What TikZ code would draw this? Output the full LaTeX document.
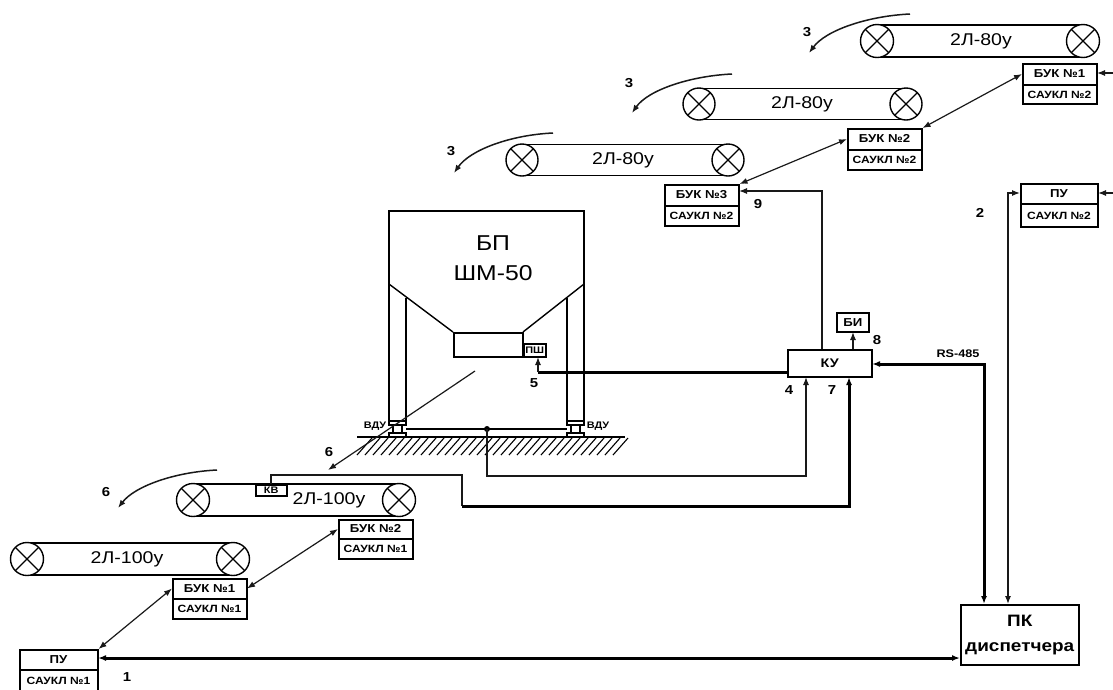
\documentclass[tikz,border=0pt]{standalone}
\usepackage{fontspec}
\setmainfont[FakeStretch=1.15]{Liberation Sans}
\usetikzlibrary{arrows.meta}
\tikzset{
  ln/.style={line width=1.2pt,black!90},
  thk/.style={line width=3pt,black},
  arr/.style={-{Latex[length=8pt,width=6pt]}},
  darr/.style={{Latex[length=8pt,width=6pt]}-{Latex[length=8pt,width=6pt]}},
  lbl/.style={font=\bfseries\fontsize{13}{15}\selectfont,inner sep=0pt},
  celltop/.style={font=\bfseries\fontsize{11.5}{13}\selectfont,inner sep=0pt},
  cellsub/.style={font=\bfseries\fontsize{10.5}{12}\selectfont,inner sep=0pt},
  contitle/.style={font=\fontsize{17}{19}\selectfont,inner sep=0pt},
  tiny/.style={font=\bfseries\fontsize{9.5}{11}\selectfont,inner sep=0pt},
  blockbox/.style={draw,line width=1.5pt,fill=white,inner sep=0pt,anchor=north west}
}
% #1 name #2 x1 #3 y1 #4 x2 #5 y2 #6 ydiv #7 top #8 bottom
\newcommand{\cellbox}[8]{%
  \node[blockbox,minimum width=#4pt-#2pt-1pt,minimum height=#5pt-#3pt-1pt] (#1) at (#2,#3) {};
  \draw[line width=1.5pt] (#2,#6) -- (#4,#6);
  \node[celltop] (#1t) at ({(#2+#4)/2},{(#3+#6)/2}) {#7};
  \node[cellsub] (#1s) at ({(#2+#4)/2},{(#6+#5)/2}) {#8};
  \coordinate (#1w) at (#2,{(#3+#6)/2});
  \coordinate (#1e) at (#4,{(#3+#6)/2});
}
% #1 name #2 xleft #3 xright #4 yc #5 r #6 text #7 text x
\newcommand{\convey}[7]{%
  \draw[line width=1.4pt] (#2,#4-#5+0.5) -- (#3,#4-#5+0.5) (#2,#4+#5-0.5) -- (#3,#4+#5-0.5);
  \foreach \cx in {#2,#3}{
    \draw[line width=1.4pt,fill=white] (\cx,#4) circle[radius=#5];
    \draw[line width=1.3pt] (\cx-0.7*#5,#4-0.7*#5) -- (\cx+0.7*#5,#4+0.7*#5)
      (\cx-0.7*#5,#4+0.7*#5) -- (\cx+0.7*#5,#4-0.7*#5);
  }
  \node[contitle] (#1) at (#7,#4) {#6};
}
\begin{document}
\begin{tikzpicture}[x=1pt,y=-1pt]
\useasboundingbox (0,0) rectangle (1113,689);
\convey{c1}{877}{1083}{41}{16.5}{2Л-80у}{981}
\convey{c2}{699}{906}{104}{16}{2Л-80у}{802}
\convey{c3}{522}{728}{160}{16}{2Л-80у}{623}
\convey{c4}{193}{399}{500}{16.5}{2Л-100у}{329}
\convey{c5}{27}{233}{559}{16.5}{2Л-100у}{127}

\cellbox{b1}{1022}{63}{1097}{104}{85}{БУК №1}{САУКЛ №2}
\cellbox{b2}{847}{128}{922}{170}{150}{БУК №2}{САУКЛ №2}
\cellbox{b3}{664}{184}{739}{226}{206}{БУК №3}{САУКЛ №2}
\cellbox{pt}{1020}{183}{1098}{227}{204}{ПУ}{САУКЛ №2}
\cellbox{a2}{338}{519}{413}{559}{539}{БУК №2}{САУКЛ №1}
\cellbox{a1}{172}{578}{247}{619}{599}{БУК №1}{САУКЛ №1}
\begin{scope}
\clip (0,0) rectangle (1113,689);
\cellbox{pl}{19}{649}{98}{700}{670}{ПУ}{}
\node[cellsub] (pls) at (58.5,681) {САУКЛ №1};
\end{scope}

% hopper
\draw[line width=1.4pt] (389,284) -- (389,211) -- (584,211) -- (584,284);
\draw[line width=1.4pt] (389,284) -- (453,332) (584,284) -- (523,332);
\node[blockbox,minimum width=69pt,minimum height=24pt] (gate) at (453,332) {};
\node[blockbox,minimum width=22pt,minimum height=13pt,tiny] (psh) at (523,343) {ПШ};
\draw[line width=1.4pt] (389,284) -- (389,422) (406,298) -- (406,422) (584,284) -- (584,422) (567,298) -- (567,422);
\node[font=\fontsize{21.5}{24}\selectfont,inner sep=0pt] (bp) at (493,243) {БП};
\node[font=\fontsize{21.5}{24}\selectfont,inner sep=0pt] (shm) at (493,273) {ШМ-50};
% supports
\foreach \xl in {389,567}{
  \draw[line width=1.1pt] (\xl,421) rectangle (\xl+17,425);
  \draw[line width=1.1pt] (\xl+4,425) -- (\xl+4,433) (\xl+13,425) -- (\xl+13,433);
  \draw[line width=1.2pt] (\xl,433) rectangle (\xl+17,437);
}
\draw[line width=1.2pt] (406,429) -- (567,429);
\draw[line width=1.4pt] (357,437) -- (625,437);
\foreach \hx in {372,380,...,628}{ \draw[line width=1.1pt] (\hx,438) -- (\hx-15,455); }
\node[tiny] (vl) at (375,426) {ВДУ};
\node[tiny] (vr) at (598,426) {ВДУ};
\coordinate (dot) at (487,429);
\fill (dot) circle[radius=3];

% KV
\node[blockbox,minimum width=31pt,minimum height=11pt,tiny] (kv) at (255,484) {КВ};

% KU, BI, PC
\node[blockbox,minimum width=84pt,minimum height=27pt,font=\bfseries\fontsize{12.5}{14}\selectfont] (ku) at (787,349) {КУ};
\node[blockbox,minimum width=32pt,minimum height=19pt,font=\bfseries\fontsize{11.5}{13}\selectfont] (bi) at (836,312) {БИ};
\node[blockbox,minimum width=118pt,minimum height=60pt,align=center,font=\bfseries\fontsize{16.5}{25}\selectfont] (pc) at (960,604) {ПК\\диспетчера};

% connectors
\draw[ln,darr] (b1w) -- (b2.north east);
\draw[ln,darr] (b2w) -- (b3.north east);
\draw[ln,darr] (a2w) -- (a1e);
\draw[ln,darr] (a1w) -- (pl.north east);
\coordinate (e1) at (1113,73); \coordinate (e2) at (1113,193);
\draw[ln,arr] (e1) -- (1097,73);
\draw[ln,arr] (e2) -- (1098,193);
\draw[thk,darr] (98,658) -- (960,658);
\draw[ln,arr] (822,349) -- (822,191) -- (739,191);
\draw[ln,arr] (853,349) -- (853,332);
\draw[thk,darr] (872,364) -- (984,364) -- (984,604);
\draw[ln,darr] (1020,193) -- (1008,193) -- (1008,604);
\draw[thk] (787,372) -- (538,372);
\draw[ln,arr] (538,372) -- (538,357);
\draw[ln,arr] (dot) -- (487,476) -- (806,476) -- (806,377);
\draw[ln] (271,484) -- (271,475) -- (462,475) -- (462,506);
\draw[thk,arr] (462,506) -- (849,506) -- (849,377);
\draw[ln,arr] (475,371) -- (328,470);
% flow arrows
\draw[ln,line width=1.5pt,arr] (910,14) .. controls (868,16) and (826,30) .. (809,53);
\draw[ln,line width=1.5pt,arr] (732,74) .. controls (690,76) and (648,90) .. (632,113);
\draw[ln,line width=1.5pt,arr] (553,133) .. controls (510,135) and (470,150) .. (454,173);
\draw[ln,line width=1.5pt,arr] (217,470) .. controls (175,472) and (135,486) .. (118,508);
% labels
\node[lbl] (n1) at (127,677) {1};
\node[lbl] (n2) at (980,213) {2};
\node[lbl] (n3a) at (807,32) {3};
\node[lbl] (n3b) at (629,83) {3};
\node[lbl] (n3c) at (451,151) {3};
\node[lbl] (n4) at (789,390) {4};
\node[lbl] (n5) at (534,383) {5};
\node[lbl] (n6a) at (329,452) {6};
\node[lbl] (n6b) at (106,492) {6};
\node[lbl] (n7) at (832,390) {7};
\node[lbl] (n8) at (877,340) {8};
\node[lbl] (n9) at (758,204) {9};
\node[font=\bfseries\fontsize{11}{13}\selectfont,inner sep=0pt] (rs) at (958,354) {RS-485};
\end{tikzpicture}
\end{document}
